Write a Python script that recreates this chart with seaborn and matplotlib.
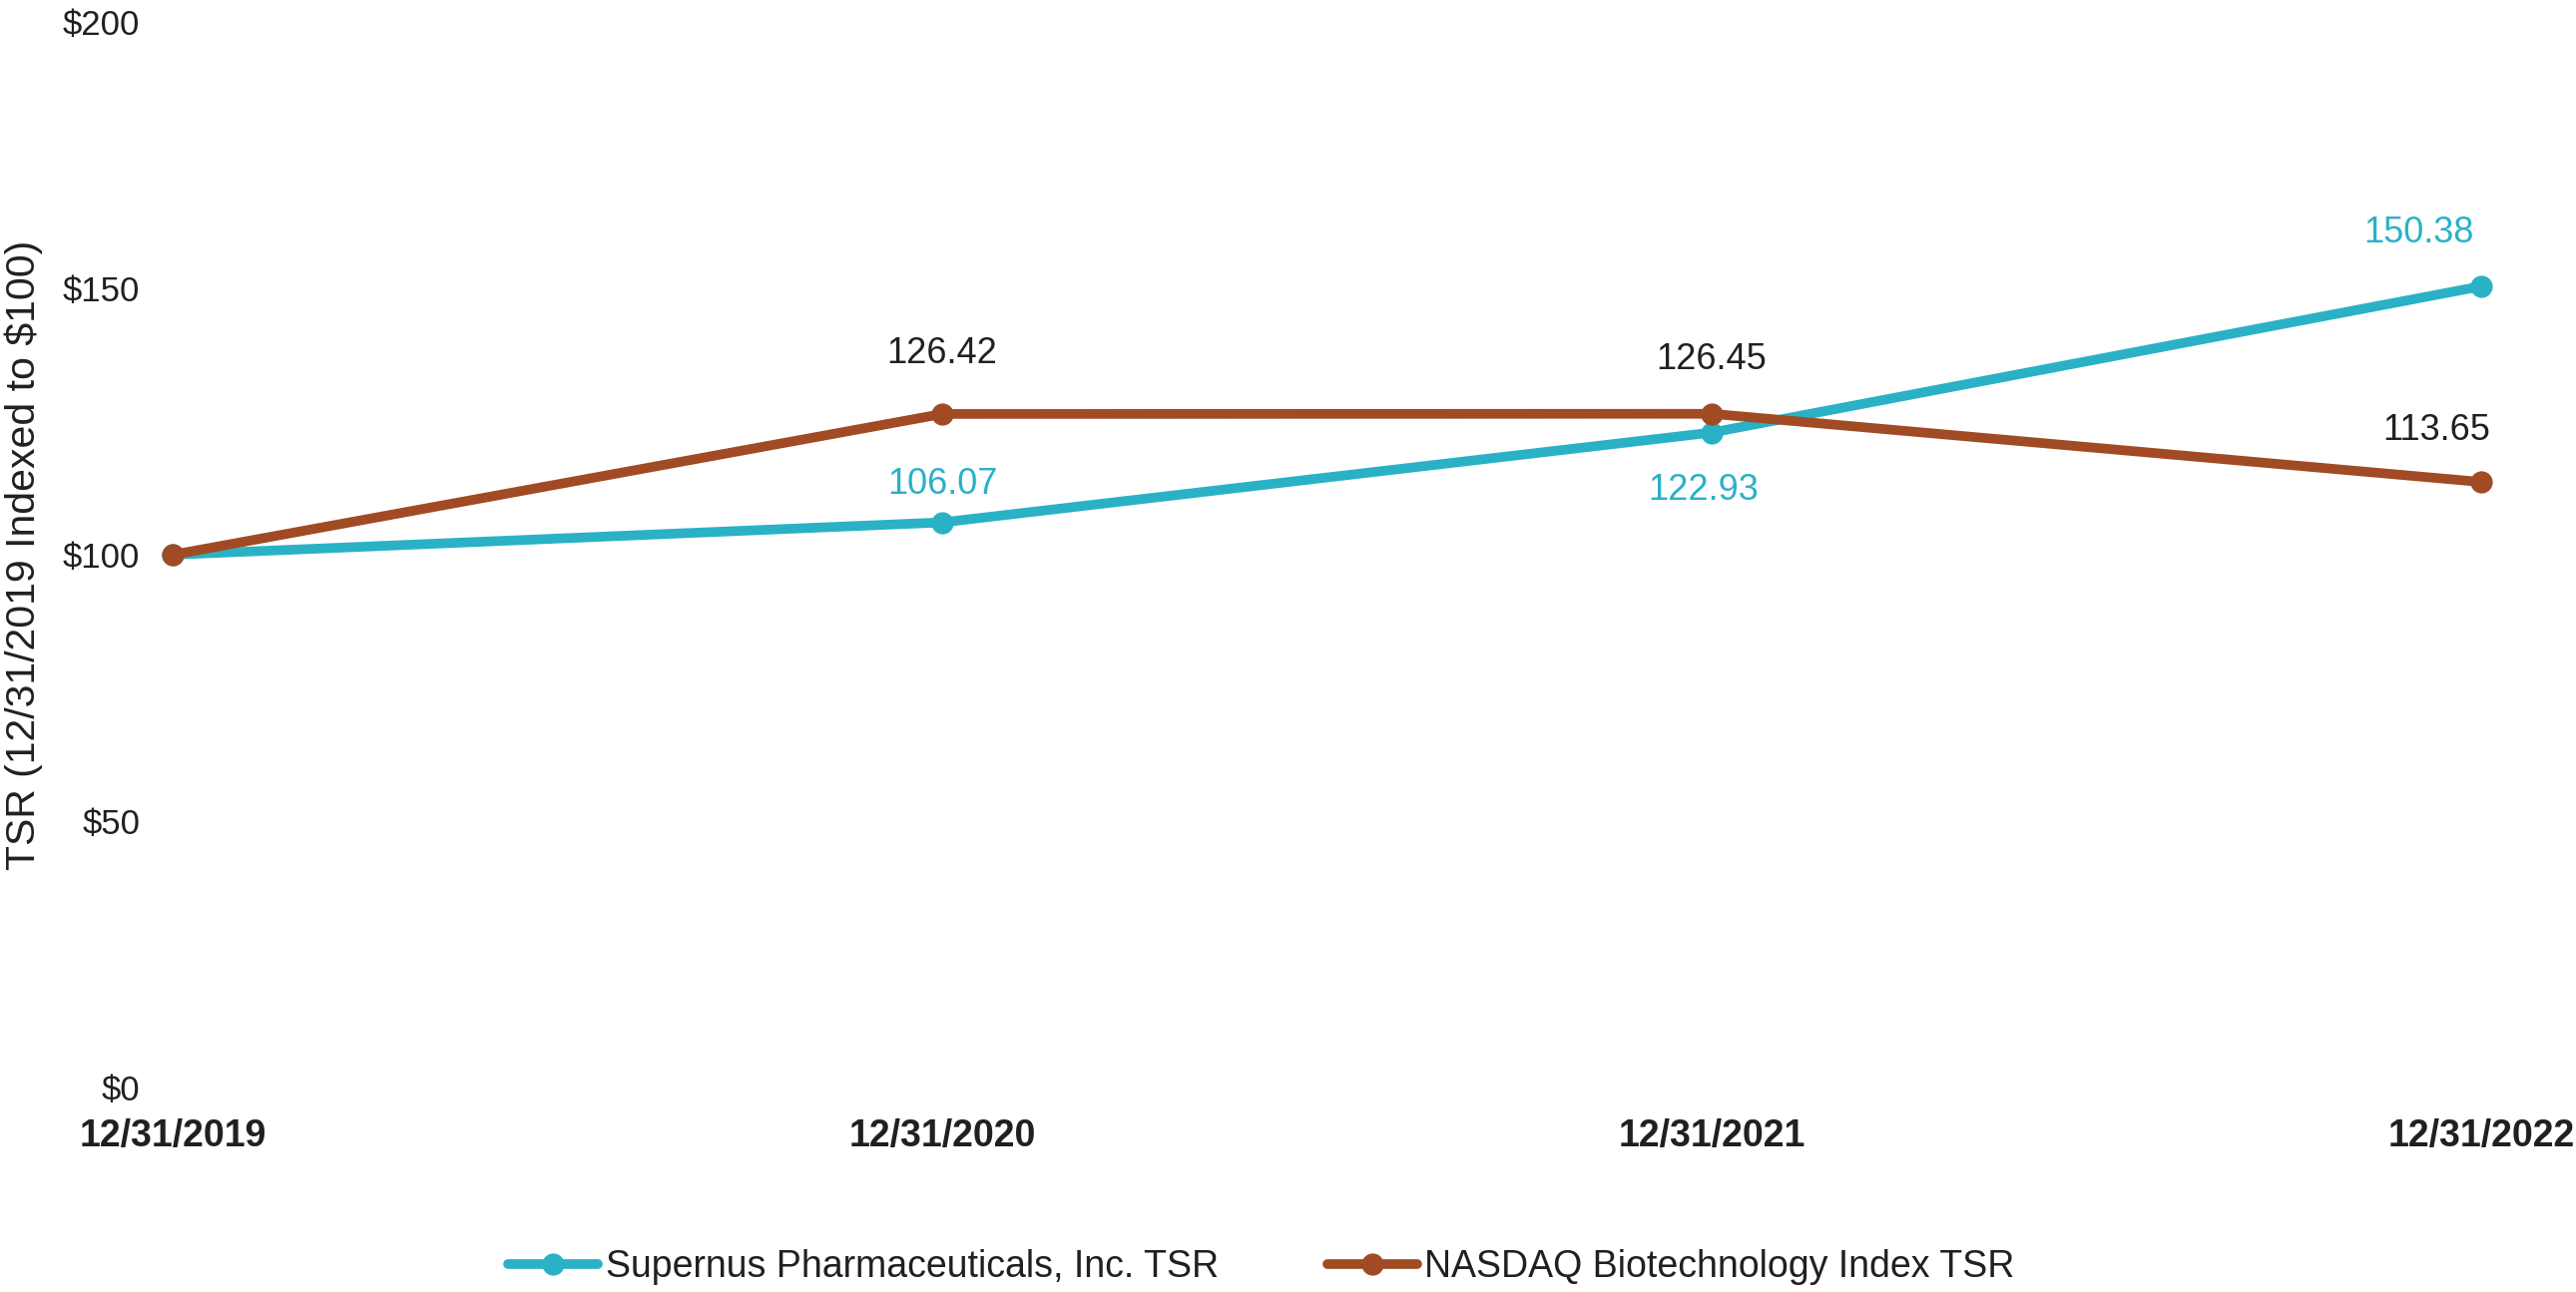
import pandas as pd
import matplotlib.pyplot as plt
import seaborn as sns

# chart data
dates = ['12/31/2019', '12/31/2020', '12/31/2021', '12/31/2022']
supernus = [100.00, 106.07, 122.93, 150.38]
nasdaq = [100.00, 126.42, 126.45, 113.65]
series_names = ['Supernus Pharmaceuticals, Inc. TSR', 'NASDAQ Biotechnology Index TSR']
y_ticks = [0, 50, 100, 150, 200]
y_tick_labels = ['$0', '$50', '$100', '$150', '$200']

cyan = '#2AB1C6'
brown = '#A04B23'
ink = '#231F20'

df = pd.DataFrame({
    'date': dates * 2,
    'value': supernus + nasdaq,
    'series': [series_names[0]] * len(dates) + [series_names[1]] * len(dates),
})

sns.set_style('white')
plt.rcParams['font.family'] = ['Liberation Sans', 'DejaVu Sans']

fig = plt.figure(figsize=(25.81, 12.95), dpi=100)
ax = fig.add_axes([150 / 2581, 1 - 1090 / 1295, 2360 / 2581, 1068 / 1295])

sns.lineplot(data=df, x='date', y='value', hue='series', palette=[cyan, brown],
             marker='o', markersize=16, markeredgewidth=0, linewidth=7,
             sort=False, ax=ax)
for ln in ax.lines:
    ln.set_clip_on(False)

ax.set_xlim(-0.03, 3.031)
ax.set_ylim(0, 200)
ax.set_yticks(y_ticks)
ax.set_yticklabels(y_tick_labels)
ax.tick_params(axis='y', length=0, pad=7, labelsize=25, labelcolor=ink)
ax.tick_params(axis='x', length=0, pad=22, labelsize=27, labelcolor=ink)
for t in ax.get_xticklabels():
    t.set_fontweight('bold')
ax.set_xlabel('')
ax.set_ylabel('TSR (12/31/2019 Indexed to $100)', fontsize=29.5, color=ink, va='center')
ax.yaxis.set_label_coords(-0.0534, 0.5)
sns.despine(ax=ax, left=True, bottom=True)

# data labels (offsets in pixels from each point)
sup_offsets = [None, (0, 38), (-8, -58), (-63, 53)]
nas_offsets = [None, (0, 60), (0, 54), (-45, 52)]
for vals, offs, col in [(supernus, sup_offsets, cyan), (nasdaq, nas_offsets, ink)]:
    for i, (v, off) in enumerate(zip(vals, offs)):
        if off is None:
            continue
        ax.annotate(f'{v:.2f}', (i, v), xytext=off, textcoords='offset pixels',
                    ha='center', va='center', fontsize=26, color=col)

handles, labels = ax.get_legend_handles_labels()
ax.legend(handles, labels, loc='center', bbox_to_anchor=(1264 / 2581, 1 - 1270 / 1295),
          bbox_transform=fig.transFigure, ncol=2, frameon=False, fontsize=27,
          handlelength=2.4, handletextpad=0.2, columnspacing=2.9, labelcolor=ink)

fig.savefig('out.png', dpi=100)
